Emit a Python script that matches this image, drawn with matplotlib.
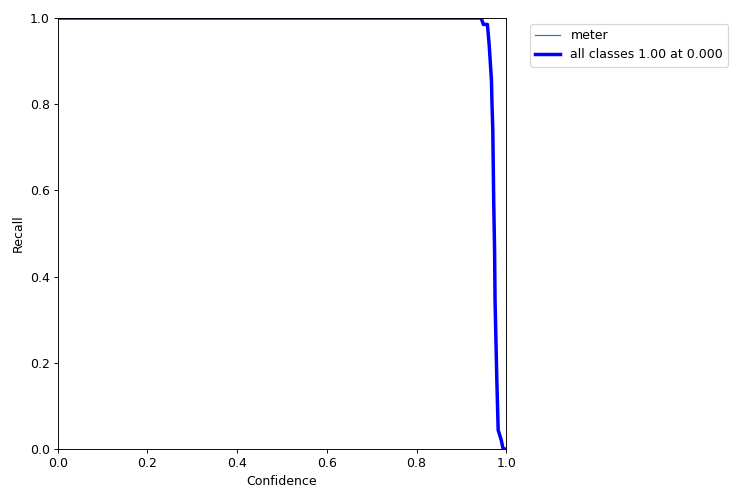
import matplotlib
matplotlib.use("Agg")
import matplotlib.pyplot as plt

# recall-confidence curve values
confidence = [0.0, 0.944, 0.949, 0.952, 0.958, 0.962, 0.967, 0.968, 0.970,
              0.972, 0.974, 0.975, 0.979, 0.982, 0.989, 0.993, 1.0]
recall = [1.0, 1.0, 0.985, 0.985, 0.985, 0.937, 0.856, 0.81, 0.74,
          0.578, 0.46, 0.346, 0.16, 0.044, 0.02, 0.0, 0.0]

class_name = "meter"
all_label = "all classes 1.00 at 0.000"

plt.rcParams["font.size"] = 10.8

fig = plt.figure(figsize=(9, 6), dpi=250 / 3)
ax = fig.add_axes([0.077, 0.102, 0.598, 0.862])

ax.plot(confidence, recall, linewidth=1, label=class_name)
ax.plot(confidence, recall, linewidth=3, color="blue", label=all_label)

ax.set_xlabel("Confidence")
ax.set_ylabel("Recall")
ax.set_xlim(0, 1)
ax.set_ylim(0, 1)
ax.legend(bbox_to_anchor=(1.04, 1), loc="upper left")

fig.savefig("out.png", dpi=250 / 3)
